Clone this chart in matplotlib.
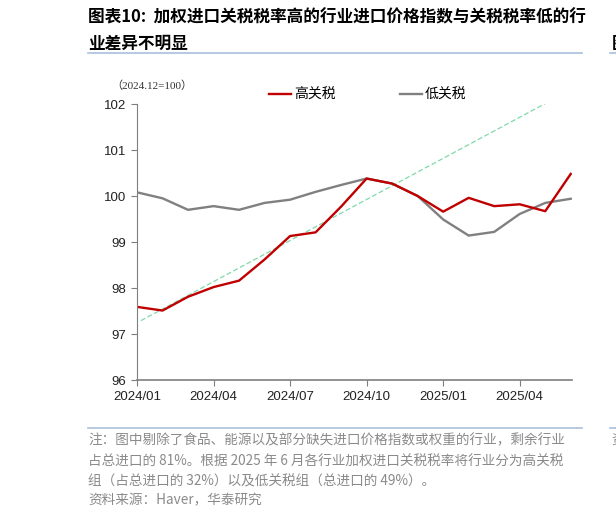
import matplotlib
matplotlib.use("Agg")
import matplotlib.pyplot as plt
from matplotlib.lines import Line2D

plt.rcParams['font.family'] = ['Liberation Sans', 'Noto Sans CJK SC', 'DejaVu Sans']

# monthly index, 2024/01 .. 2025/06
months = list(range(18))
high_tariff = [97.59, 97.51, 97.81, 98.02, 98.16, 98.62, 99.13, 99.21, 99.77,
               100.38, 100.27, 100.00, 99.66, 99.96, 99.78, 99.82, 99.67, 100.48]
low_tariff = [100.08, 99.95, 99.70, 99.78, 99.70, 99.85, 99.92, 100.09, 100.24,
              100.38, 100.27, 100.00, 99.49, 99.14, 99.22, 99.61, 99.85, 99.94]
# trend line end points (month index, value)
trend_x = [0.15, 16.1]
trend_y = [97.29, 102.04]

tick_pos = [0, 3, 6, 9, 12, 15]
tick_labels = ["2024/01", "2024/04", "2024/07", "2024/10", "2025/01", "2025/04"]

title = ["图表10:  加权进口关税税率高的行业进口价格指数与关税税率低的行",
         "业差异不明显"]
notes = ["注：图中剔除了食品、能源以及部分缺失进口价格指数或权重的行业，剩余行业",
         "占总进口的 81%。根据 2025 年 6 月各行业加权进口关税税率将行业分为高关税",
         "组（占总进口的 32%）以及低关税组（总进口的 49%）。",
         "资料来源：Haver，华泰研究"]

fig = plt.figure(figsize=(6.16, 5.18), dpi=100)
ax = fig.add_axes([0.2224, 0.2664, 0.7062, 0.5328])

ax.plot(trend_x, trend_y, color="#7FD9A8", lw=0.9, ls=(0, (4, 2)))
ax.plot(months, low_tariff, color="#808080", lw=1.7, label="低关税")
ax.plot(months, high_tariff, color="#C00000", lw=1.7, label="高关税")

ax.set_xlim(0, 17.05)
ax.set_ylim(96, 102)
ax.set_yticks([96, 97, 98, 99, 100, 101, 102])
ax.set_xticks(tick_pos)
ax.set_xticklabels(tick_labels)
for s in ["top", "right"]:
    ax.spines[s].set_visible(False)
for s in ["left", "bottom"]:
    ax.spines[s].set_color("#7f7f7f")
ax.spines["bottom"].set_linewidth(1.2)
ax.tick_params(axis="both", direction="out", length=4, color="#7f7f7f",
               labelsize=9.5, labelcolor="#222222")
ax.tick_params(axis="x", pad=4)

handles = [Line2D([], [], color="#C00000", lw=1.7),
           Line2D([], [], color="#808080", lw=1.7)]
fig.legend(handles, ["高关税", "低关税"], loc="center", bbox_to_anchor=(0.597, 0.817),
           ncol=2, frameon=False, handlelength=1.6, handletextpad=0.2,
           columnspacing=4.6, prop={'family': ['Noto Sans CJK SC'], 'size': 10})

fig.text(0.181, 0.835, "（2024.12=100）", fontsize=8, ha="left", va="center",
         family=['Liberation Serif', 'Noto Sans CJK SC'], color="#333333")

# title
fig.text(0.143, 0.966, title[0], fontsize=12, fontweight="bold", ha="left", va="center",
         family=['Noto Sans CJK SC'])
fig.text(0.143, 0.916, title[1], fontsize=12, fontweight="bold", ha="left", va="center",
         family=['Noto Sans CJK SC'])
fig.add_artist(Line2D([0.143, 0.945], [0.897, 0.897], color="#A9C0DA", lw=1.2))
fig.add_artist(Line2D([0.143, 0.945], [0.174, 0.174], color="#A9C0DA", lw=1.2))
# bits of the neighbouring chart at the right edge
fig.text(0.993, 0.916, "图", fontsize=12, fontweight="bold", ha="left", va="center",
         family=['Noto Sans CJK SC'])
fig.add_artist(Line2D([0.99, 1.0], [0.897, 0.897], color="#A9C0DA", lw=1.2))
fig.add_artist(Line2D([0.99, 1.0], [0.174, 0.174], color="#A9C0DA", lw=1.2))
fig.text(0.993, 0.150, "资", fontsize=9.8, ha="left", va="center",
         family=['Noto Sans CJK SC'], color="#8a8a8a")

ys = [0.150, 0.108, 0.071, 0.034]
for y, line in zip(ys, notes):
    fig.text(0.143, y, line, fontsize=9.8, ha="left", va="center", color="#8a8a8a",
             family=['Noto Sans CJK SC'])

fig.savefig("out.png", dpi=100)
